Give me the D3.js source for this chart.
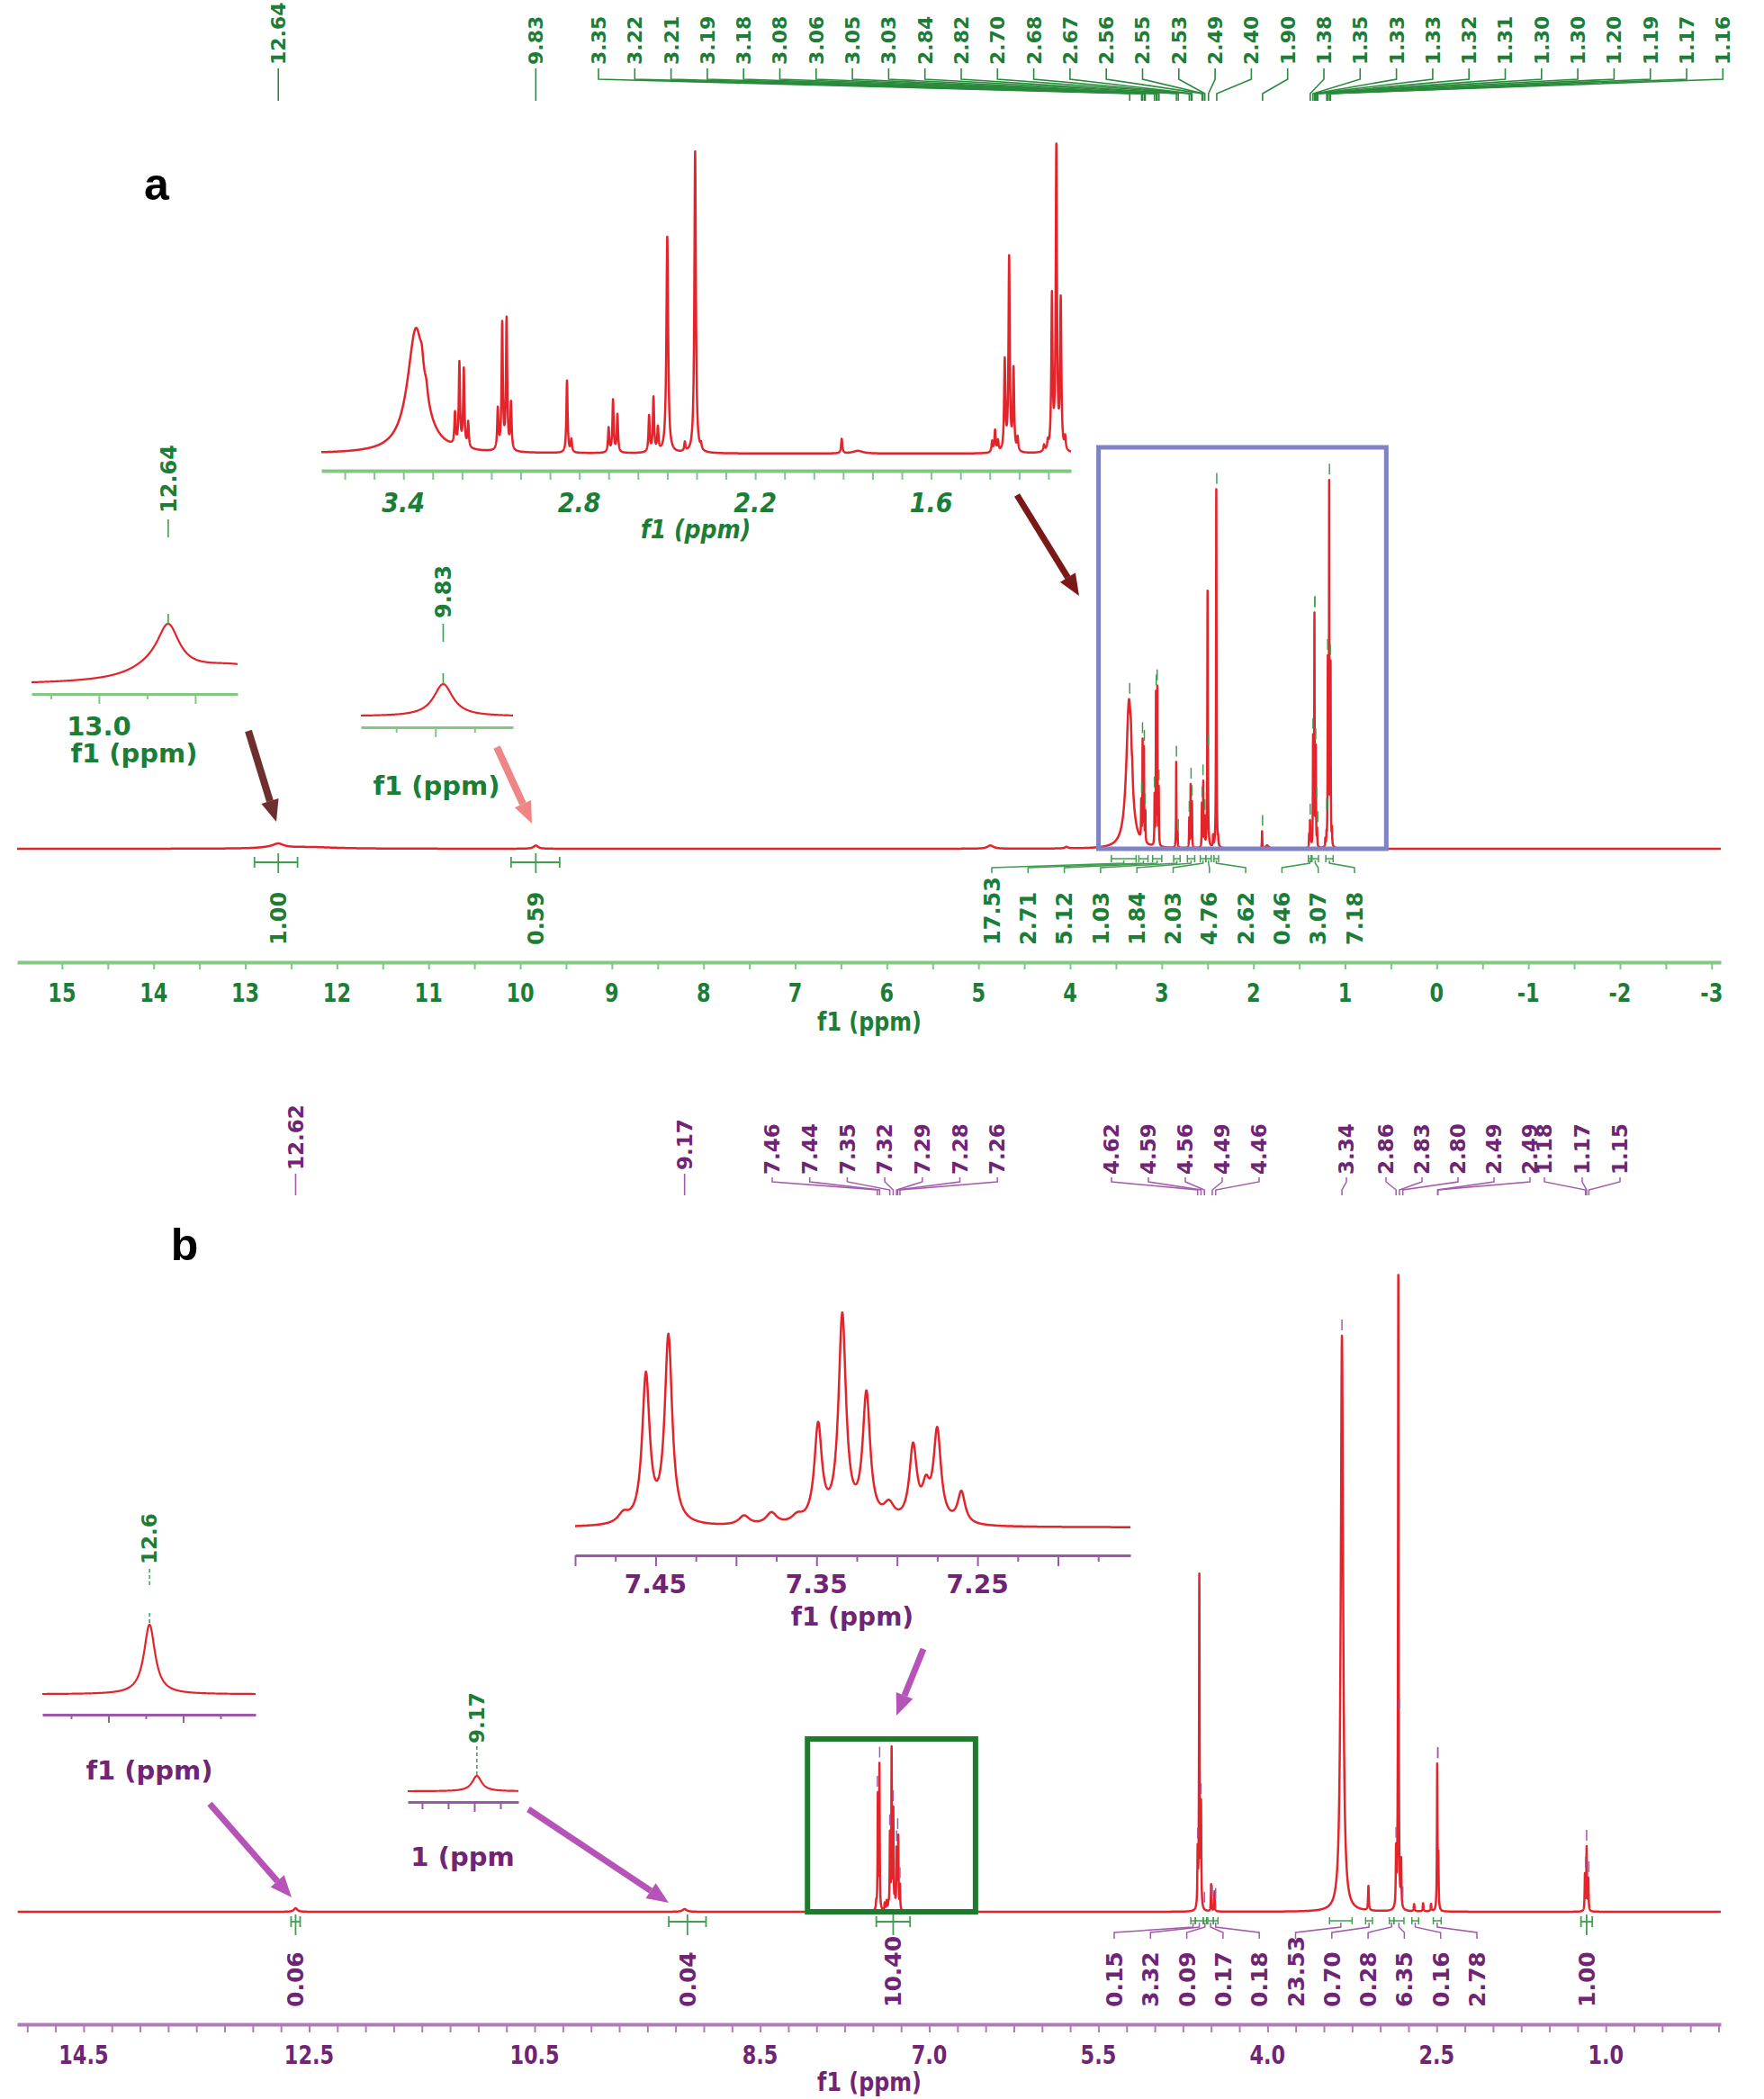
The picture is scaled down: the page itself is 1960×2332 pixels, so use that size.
<!DOCTYPE html>
<html><head><meta charset="utf-8">
<script src="https://cdn.jsdelivr.net/npm/d3@7"></script>
<style>body{margin:0;background:#fff}svg{display:block}</style>
</head><body>
<svg id="c" width="1960" height="2332"></svg>
<script>
// ================= DATA =================
// spectrum a : [ppm, intensity, half-width(ppm)]
const peaksA = [
 [12.64,3.6,0.07],[12.72,0.8,0.15],[12.30,1.5,0.35],
 [9.83,3.0,0.03],[4.87,3.0,0.04],[4.04,1.5,0.02],
 [3.357,138,0.035],[3.337,15,0.006],[3.322,12,0.006],
 [3.224,35,0.0025],[3.209,92,0.0025],[3.194,86,0.0025],[3.179,28,0.0025],
 [3.078,45,0.0025],[3.063,140,0.0025],[3.048,145,0.0025],[3.033,52,0.0025],
 [2.842,80,0.0025],[2.827,14,0.0025],
 [2.700,27,0.0025],[2.685,58,0.0025],[2.670,42,0.0025],
 [2.562,40,0.0025],[2.547,60,0.0025],[2.532,26,0.0025],
 [2.500,240,0.0035],[2.440,10,0.0025],[2.405,335,0.003],[2.385,6,0.0025],
 [1.905,16,0.0025],[1.850,3,0.02],
 [1.392,12,0.0025],[1.382,24,0.0025],[1.372,12,0.0025],
 [1.349,100,0.0025],[1.334,215,0.0025],[1.319,90,0.0025],[1.305,15,0.0025],
 [1.215,7,0.0025],[1.202,9,0.0025],[1.188,170,0.0025],[1.173,335,0.0025],[1.158,165,0.0025],[1.143,14,0.0025]
];
// spectrum b
const peaksB = [
 [12.62,4,0.018],[9.17,3,0.022],
 [7.470,8,0.004],[7.456,126,0.0028],[7.442,160,0.0028],[7.395,8,0.004],[7.378,10,0.004],[7.362,6,0.004],
 [7.349,82,0.0028],[7.334,176,0.0028],[7.319,108,0.0028],[7.305,14,0.004],
 [7.290,64,0.0028],[7.282,25,0.0028],[7.275,78,0.0028],[7.260,27,0.0028],
 [4.620,60,0.003],[4.605,369,0.003],[4.590,110,0.003],[4.500,30,0.003],[4.470,22,0.003],
 [3.340,640,0.012],[3.105,27,0.004],
 [2.860,60,0.003],[2.840,705,0.003],[2.815,50,0.003],[2.700,8,0.004],[2.620,9,0.004],[2.550,8,0.004],
 [2.495,160,0.003],[2.485,55,0.003],
 [1.185,40,0.003],[1.170,70,0.003],[1.155,35,0.003]
];
// peak labels
const topLabelsA = ["3.35","3.22","3.21","3.19","3.18","3.08","3.06","3.05","3.03","2.84","2.82","2.70","2.68","2.67","2.56","2.55","2.53","2.49","2.40","1.90","1.38","1.35","1.33","1.33","1.32","1.31","1.30","1.30","1.20","1.19","1.17","1.16"];
const singleLabelsA = ["12.64","9.83"];
const aromLabelsB = ["7.46","7.44","7.35","7.32","7.29","7.28","7.26"];
const labels46B = ["4.62","4.59","4.56","4.49","4.46"];
const labels334B = ["3.34"];
const labels28B = ["2.86","2.83","2.80","2.49","2.49"];
const labels117B = ["1.18","1.17","1.15"];
const singleLabelsB = ["12.62","9.17"];
// integrals [value, from ppm, to ppm]
const integralsA = [["17.53",3.55,3.28],["2.71",3.25,3.15],["5.12",3.10,3.00],["1.03",2.87,2.80],["1.84",2.72,2.64],["2.03",2.58,2.52],["4.76",2.52,2.46],["2.62",2.43,2.38],["0.46",1.40,1.37],["3.07",1.36,1.29],["7.18",1.21,1.13]];
const singleIntegralsA = [["1.00",12.90,12.43],["0.59",10.10,9.57]];
const integralsB = [["0.15",4.68,4.64],["3.32",4.64,4.57],["0.09",4.57,4.54],["0.17",4.53,4.48],["0.18",4.48,4.44],["23.53",3.45,3.25],["0.70",3.13,3.07],["0.28",2.92,2.88],["6.35",2.88,2.79],["0.16",2.72,2.66],["2.78",2.53,2.46]];
const singleIntegralsB = [["0.06",12.66,12.58],["0.04",9.31,8.98],["10.40",7.47,7.17],["1.00",1.22,1.12]];
// axis ticks
const axisLabelsA = [15,14,13,12,11,10,9,8,7,6,5,4,3,2,1,0,-1,-2,-3];
const axisLabelsB = [14.5,12.5,10.5,8.5,7.0,5.5,4.0,2.5,1.0];
const insetLabelsA = [3.4,2.8,2.2,1.6];
const insetLabelsB = [7.45,7.35,7.25];

// ================= HELPERS =================
const svg = d3.select("#c");
const FONT = "'DejaVu Sans', Verdana, sans-serif";
const RED="#e3242b", GREEN="#1b7d36", LGREEN="#82c882", MGREEN="#3f9f4f",
      PURPLE="#6f2474", LPURPLE="#b27ab8", MPURPLE="#a35aaa";

function lor(peaks, v){ let s=0; for(const p of peaks){ const d=(v-p[0])/p[2]; s+=p[1]/(1+d*d);} return s; }
function sampleSpectrum(peaks, lo, hi, step){
  const xs=[];
  for(let v=lo; v<=hi+1e-9; v+=step) xs.push(v);
  for(const p of peaks){
    const span=Math.max(p[2]*14,0.02), st=Math.min(p[2]/5,0.001);
    for(let v=p[0]-span; v<=p[0]+span; v+=st) xs.push(v);
    xs.push(p[0]);
  }
  return xs.filter(v=>v>=lo&&v<=hi).sort((a,b)=>a-b).map(v=>[v,lor(peaks,v)]);
}
function drawCurve(data, x, y, w){
  svg.append("path").datum(data)
    .attr("d", d3.line().x(d=>x(d[0])).y(d=>y(d[1])))
    .attr("fill","none").attr("stroke",RED).attr("stroke-width",w||2.5).attr("stroke-linejoin","round");
}
function rotText(x, yBottom, txt, size, color){
  svg.append("text").attr("transform",`translate(${x},${yBottom}) rotate(-90)`)
    .attr("dy","0.36em").attr("text-anchor","start")
    .attr("font-family",FONT).attr("font-weight","bold").attr("font-size",size).attr("fill",color).text(txt);
}
function text(x,y,txt,size,color,opts={}){
  const t=svg.append("text").attr("x",x).attr("y",y).attr("text-anchor",opts.anchor||"middle")
    .attr("dominant-baseline","central").attr("font-family",opts.family||FONT).attr("font-weight","bold")
    .attr("font-size",size).attr("fill",color).text(txt);
  if(opts.italic) t.attr("font-style","italic");
  if(opts.sx) t.attr("transform",`translate(${x},${y}) scale(${opts.sx},1) translate(${-x},${-y})`);
  return t;
}
function line(pts,color,w,dash){
  const p=svg.append("path").attr("d",d3.line()(pts)).attr("fill","none").attr("stroke",color).attr("stroke-width",w);
  if(dash) p.attr("stroke-dasharray",dash);
  return p;
}
function axis(x, y, ticks, color, w, major, tl){
  const g=svg.append("g").attr("transform",`translate(0,${y})`)
    .call(d3.axisBottom(x).tickValues(ticks).tickFormat("").tickSizeOuter(0).tickSizeInner(0));
  g.select(".domain").attr("stroke",color).attr("stroke-width",w);
  g.selectAll(".tick line").attr("stroke",color).attr("stroke-width",2)
    .attr("y2", d => major && major(d) ? tl[1] : tl[0]);
  return g;
}
function arrow(x1,y1,x2,y2,color,w){
  const ang=Math.atan2(y2-y1,x2-x1), L=24, Hw=10;
  const bx=x2-L*Math.cos(ang), by=y2-L*Math.sin(ang);
  line([[x1,y1],[bx,by]],color,w);
  const px=-Math.sin(ang), py=Math.cos(ang);
  svg.append("path").attr("d",`M${x2},${y2}L${bx+px*Hw},${by+py*Hw}L${bx-px*Hw},${by-py*Hw}Z`).attr("fill",color);
}
function peakTopY(peaks, ppm, y){ let m=0; for(let v=ppm-0.006; v<=ppm+0.006; v+=0.0005) m=Math.max(m,lor(peaks,v)); return y(m); }
function near(a,b){ return Math.abs(a-b)<1e-6; }

// ================= PANEL A =================
const xA = d3.scaleLinear().domain([15.49,-3.10]).range([19,1912]);
const yA = d3.scaleLinear().domain([0,100]).range([943,824]);
drawCurve(sampleSpectrum(peaksA,-3.10,15.49,0.005), xA, yA, 2.5);

// blue box
svg.append("rect").attr("x",xA(3.69)).attr("y",497).attr("width",xA(0.55)-xA(3.69)).attr("height",943-497)
  .attr("fill","none").attr("stroke","#7f83c6").attr("stroke-width",5);

// main axis a
axis(xA,1069,d3.range(-3,15.01,0.5),LGREEN,4,null,[8,8]);
axisLabelsA.forEach(v=>text(xA(v),1103,String(v),28,GREEN,{sx:0.8}));
text(966,1135,"f1 (ppm)",28,GREEN,{sx:0.85});

// top labels a
topLabelsA.forEach((t,i)=>{
  const lx=665+i*40.3, px=xA(+t);
  rotText(lx,72,t,22,GREEN);
  line([[lx,76],[lx,88],[px,104],[px,112]],"#2a8a3c",1.6);
  const ty=peakTopY(peaksA,+t,yA);
  line([[px,ty-18],[px,ty-6]],MGREEN,1.5);
});
singleLabelsA.forEach(t=>{
  const px=xA(+t);
  rotText(px,72,t,22,GREEN);
  line([[px,76],[px,112]],"#2a8a3c",1.6);
});

// integrals a
integralsA.forEach((d,i)=>{
  const lx=1102+i*40.3, x1=xA(d[1]), x2=xA(d[2]), cx=(x1+x2)/2, yM=954;
  line([[x1,yM-4],[x1,yM+4]],MGREEN,1.5); line([[x1,yM],[x2,yM]],MGREEN,1.5); line([[x2,yM-4],[x2,yM+4]],MGREEN,1.5);
  line([[lx,970],[lx,964],[cx,959],[cx,yM+2]],MGREEN,1.5);
  rotText(lx,1050,d[0],24,GREEN);
});
singleIntegralsA.forEach((d,i)=>{
  const x1=xA(d[1]), x2=xA(d[2]), cx=xA(+singleLabelsA[i]), yM=958;
  line([[x1,yM-6],[x1,yM+6]],MGREEN,1.8); line([[x1,yM],[x2,yM]],MGREEN,1.8); line([[x2,yM-6],[x2,yM+6]],MGREEN,1.8);
  line([[cx,948],[cx,970]],MGREEN,1.8);
  rotText(cx,1050,d[0],24,GREEN);
});

// inset a
const xIa = d3.scaleLinear().domain([3.68,1.123]).range([357,1190]);
const yIa = d3.scaleLinear().domain([0,377]).range([504,127]);
drawCurve(sampleSpectrum(peaksA,1.123,3.68,0.002), xIa, yIa, 2.5);
axis(xIa,523,d3.range(1.2,3.61,0.1).map(v=>+v.toFixed(1)),LGREEN,4,null,[10,10]);
insetLabelsA.forEach(v=>text(xIa(v),559,v.toFixed(1),30,GREEN,{italic:true,sx:0.9}));
text(773,588,"f1 (ppm)",28,GREEN,{italic:true,sx:0.9});

// small inset 12.64
const xS1 = d3.scaleLinear().domain([13.35,12.28]).range([35,264]);
const dS1 = sampleSpectrum(peaksA,12.28,13.35,0.002);
const yS1 = d3.scaleLinear().domain(d3.extent(dS1,d=>d[1])).range([758,693]);
drawCurve(dS1,xS1,yS1,2.2);
axis(xS1,771,[13.25,13.0,12.75,12.5],LGREEN,3,d=>near(d,13.0)||near(d,12.5),[6,11]);
text(xS1(13.0),807,"13.0",29,GREEN);
text(149,837,"f1 (ppm)",29,GREEN);
rotText(xS1(12.64),570,"12.64",24,GREEN);
line([[xS1(12.64),577],[xS1(12.64),597]],MGREEN,1.6);
line([[xS1(12.64),682],[xS1(12.64),693]],MGREEN,1.6);

// small inset 9.83
const xS2 = d3.scaleLinear().domain([10.04,9.652]).range([401,570]);
const dS2 = sampleSpectrum(peaksA,9.652,10.04,0.001);
const yS2 = d3.scaleLinear().domain(d3.extent(dS2,d=>d[1])).range([795,760]);
drawCurve(dS2,xS2,yS2,2.2);
axis(xS2,808,[9.95,9.85,9.75],LGREEN,3,d=>near(d,9.85),[6,11]);
text(485,873,"f1 (ppm)",29,GREEN);
rotText(xS2(9.83),687,"9.83",24,GREEN);
line([[xS2(9.83),693],[xS2(9.83),713]],MGREEN,1.6);
line([[xS2(9.83),748],[xS2(9.83),760]],MGREEN,1.6);

// arrows a
arrow(276,812,307,913,"#6e2f2f",8);
arrow(552,830,591,915,"#f08585",8);
arrow(1130,550,1199,662,"#7b1919",7);

// letter a
svg.append("text").attr("x",174).attr("y",222).attr("text-anchor","middle").attr("font-family","'Liberation Sans',Arial,sans-serif")
  .attr("font-weight","bold").attr("font-size",50).text("a");

// ================= PANEL B =================
const xB = d3.scaleLinear().domain([15.09,-0.02]).range([19,1912]);
const yB = d3.scaleLinear().domain([0,711]).range([2124,1413]);
drawCurve(sampleSpectrum(peaksB,-0.02,15.09,0.005), xB, yB, 2.5);

// green box
svg.append("rect").attr("x",xB(8.08)).attr("y",1932).attr("width",xB(6.59)-xB(8.08)).attr("height",2124-1932)
  .attr("fill","none").attr("stroke","#1e7b2e").attr("stroke-width",6);

// axis b
axis(xB,2249,d3.range(0,15.01,0.25),LPURPLE,4,null,[9,9]);
axisLabelsB.forEach(v=>text(xB(v),2283,v.toFixed(1),28,PURPLE,{sx:0.8}));
text(966,2313,"f1 (ppm)",28,PURPLE,{sx:0.85});

// top labels b
[[aromLabelsB,858,41.7],[labels46B,1235,41],[labels334B,1496,0],[labels28B,1540,40],[labels117B,1716,42]].forEach(([labs,start,step])=>{
  labs.forEach((t,i)=>{
    const lx=start+i*step, px=xB(+t);
    rotText(lx,1305,t,23,PURPLE);
    line([[lx,1308],[lx,1313],[px,1322],[px,1328]],MPURPLE,1.5);
    const ty=peakTopY(peaksB,+t,yB);
    line([[px,ty-18],[px,ty-6]],MPURPLE,1.5);
  });
});
singleLabelsB.forEach(t=>{
  const px=xB(+t);
  rotText(px,1300,t,23,PURPLE);
  line([[px,1304],[px,1328]],MPURPLE,1.6);
});

// integrals b
integralsB.forEach((d,i)=>{
  const lx=1238+i*40.3, x1=xB(d[1]), x2=xB(d[2]), cx=(x1+x2)/2, yM=2134;
  line([[x1,yM-4],[x1,yM+4]],MGREEN,1.5); line([[x1,yM],[x2,yM]],MGREEN,1.5); line([[x2,yM-4],[x2,yM+4]],MGREEN,1.5);
  line([[lx,2154],[lx,2147],[cx,2141],[cx,yM+2]],MPURPLE,1.5);
  rotText(lx,2230,d[0],25,PURPLE);
});
singleIntegralsB.forEach(d=>{
  const x1=xB(d[1]), x2=xB(d[2]), cx=(x1+x2)/2, yM=2135;
  line([[x1,yM-6],[x1,yM+6]],MGREEN,1.8); line([[x1,yM],[x2,yM]],MGREEN,1.8); line([[x2,yM-6],[x2,yM+6]],MGREEN,1.8);
  line([[cx,2127],[cx,2150]],MGREEN,1.8);
  rotText(cx,2230,d[0],25,PURPLE);
});

// inset b (aromatic)
const xIb = d3.scaleLinear().domain([7.50,7.155]).range([639,1256]);
const yIb = d3.scaleLinear().domain([0,176]).range([1697,1468]);
drawCurve(sampleSpectrum(peaksB,7.155,7.50,0.0005), xIb, yIb, 2.5);
axis(xIb,1728,d3.range(7.175,7.501,0.025).map(v=>+v.toFixed(3)),"#9b58a6",3,d=>Math.abs(Math.round(d*20)-d*20)<1e-6,[7,12]);
insetLabelsB.forEach(v=>text(xIb(v),1760,v.toFixed(2),28,PURPLE));
text(947,1796,"f1 (ppm)",28,PURPLE);

// small inset 12.6 (b)
const xS3 = d3.scaleLinear().domain([12.907,12.336]).range([47,284]);
const dS3 = sampleSpectrum(peaksB,12.336,12.907,0.001);
const yS3 = d3.scaleLinear().domain(d3.extent(dS3,d=>d[1])).range([1882,1805]);
drawCurve(dS3,xS3,yS3,2.2);
axis(xS3,1905,[12.83,12.73,12.63,12.53,12.43],"#9b58a6",3,d=>near(d,12.73)||near(d,12.53),[5,9]);
text(166,1967,"f1 (ppm)",29,PURPLE);
rotText(xS3(12.62),1738,"12.6",23,GREEN);
line([[xS3(12.62),1743],[xS3(12.62),1763]],MGREEN,1.5,"4,3");
line([[xS3(12.62),1792],[xS3(12.62),1804]],MGREEN,1.5,"4,3");

// small inset 9.17 (b)
const xS4 = d3.scaleLinear().domain([9.435,9.011]).range([453,576]);
const dS4 = sampleSpectrum(peaksB,9.011,9.435,0.001);
const yS4 = d3.scaleLinear().domain(d3.extent(dS4,d=>d[1])).range([1990,1973]);
drawCurve(dS4,xS4,yS4,2.2);
axis(xS4,2002,[9.38,9.28,9.18,9.08],"#9b58a6",3,d=>near(d,9.18),[8,11]);
text(514,2063,"1 (ppm",29,PURPLE);
rotText(xS4(9.17),1937,"9.17",23,GREEN);
line([[xS4(9.17),1940],[xS4(9.17),1972]],MGREEN,1.5,"4,3");

// arrows b
arrow(233,2004,324,2108,"#b653b8",7);
arrow(587,2010,743,2114,"#b653b8",7);
arrow(1026,1832,996,1906,"#b653b8",7);

// letter b
svg.append("text").attr("x",205).attr("y",1400).attr("text-anchor","middle").attr("font-family","'Liberation Sans',Arial,sans-serif")
  .attr("font-weight","bold").attr("font-size",50).text("b");
</script>
</body></html>
